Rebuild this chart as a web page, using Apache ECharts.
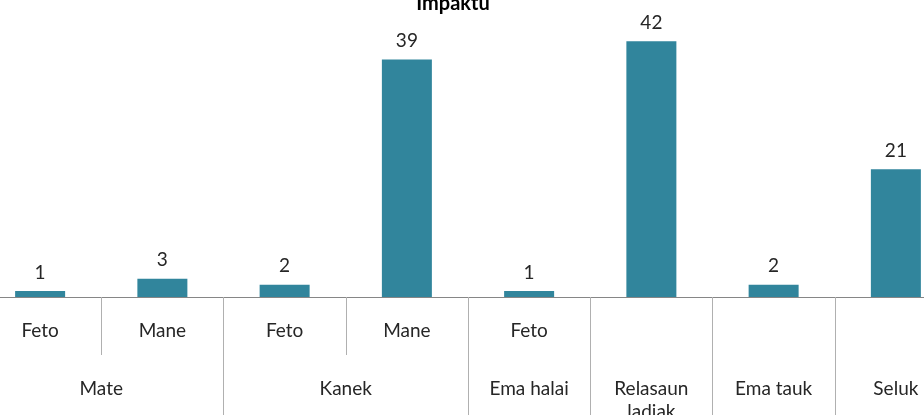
<!DOCTYPE html>
<html><head><meta charset="utf-8">
<script src="https://cdn.jsdelivr.net/npm/echarts@6/dist/echarts.min.js"></script>
<style>html,body{margin:0;padding:0;background:#fff;overflow:hidden;width:924px;height:415px}#c{position:absolute;left:-21px;top:0;width:978px;height:415px}</style>
</head><body><div id="c"></div>
<script>
const titleText = 'Impaktu';
const subCategories = ['Feto','Mane','Feto','Mane','Feto','','',''];
const values = [1,3,2,39,1,42,2,21];
// group labels on a half-step grid (17 points: 0, 0.5, ... 8)
const groupLabels = ['','','Mate','','','','Kanek','','','Ema halai','','Relasaun\nladiak','','Ema tauk','','Seluk',''];
const groupBoundaries = [0,4,8,10,12,14,16];
const subBoundaries = [1,3];

const font = 'Lato, "Open Sans", sans-serif';
const txt = '#262626';
const chart = echarts.init(document.getElementById('c'));
chart.setOption({
  animation:false,
  title:{text:titleText,left:469,top:-11,textAlign:'center',textStyle:{fontFamily:font,fontSize:20,fontWeight:'bold',color:'#000'}},
  grid:{left:0,right:0,top:23,bottom:118,containLabel:false,outerBoundsMode:'none'},
  xAxis:[{
    type:'category',data:subCategories,position:'bottom',
    axisLine:{show:true,lineStyle:{color:'#868686',width:1}},
    axisTick:{show:true,length:58,interval:function(i){return subBoundaries.indexOf(i)>=0;},lineStyle:{color:'#B0B0B0'}},
    axisLabel:{interval:0,margin:24,fontFamily:font,fontSize:19,color:txt}
  },{
    type:'category',data:groupLabels,position:'bottom',boundaryGap:false,
    axisLine:{show:false},
    axisTick:{show:true,length:140,interval:function(i){return groupBoundaries.indexOf(i)>=0;},lineStyle:{color:'#B0B0B0'}},
    axisLabel:{interval:0,margin:80,fontFamily:font,fontSize:19,color:txt,lineHeight:23}
  }],
  yAxis:{type:'value',min:0,max:45,show:false,splitLine:{show:false}},
  series:[{
    type:'bar',data:values,xAxisIndex:0,barWidth:50,
    itemStyle:{color:'#31859C'},
    label:{show:true,position:'top',distance:9,fontFamily:font,fontSize:19,color:txt}
  }]
});
</script></body></html>
